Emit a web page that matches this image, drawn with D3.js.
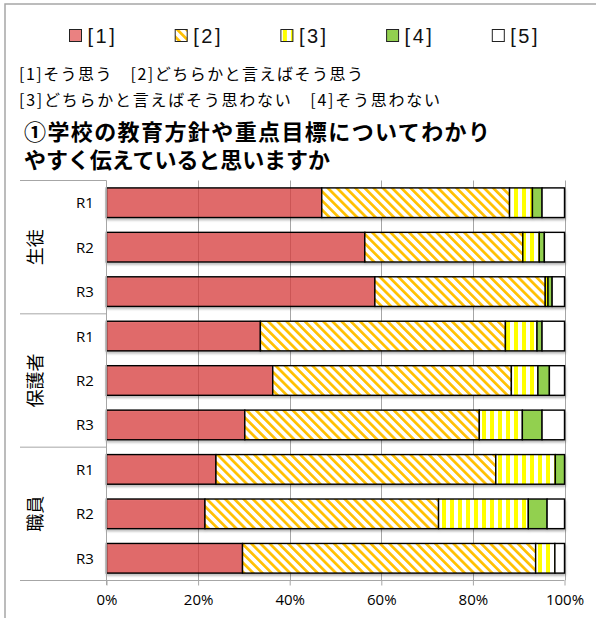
<!DOCTYPE html>
<html>
<head>
<meta charset="utf-8">
<script src="https://cdn.jsdelivr.net/npm/d3@7"></script>
<style>
  body { margin: 0; background: #fff; }
  svg { display: block; }
</style>
</head>
<body>
<svg width="596" height="618"></svg>
<script>
// data (percent)
var groups = ["生徒", "保護者", "職員"];
var rounds = ["R1", "R2", "R3"];
var seriesNames = ["[1]", "[2]", "[3]", "[4]", "[5]"];
var s1 = [47.0, 56.4, 58.6, 33.6, 36.3, 30.2, 23.9, 21.5, 29.7];
var s2 = [41.0, 34.5, 37.2, 53.5, 52.1, 51.2, 61.1, 51.0, 64.0];
var s3 = [5.0, 3.6, 0.6, 6.9, 5.8, 9.4, 13.0, 19.6, 4.2];
var s4 = [2.1, 1.1, 0.9, 1.1, 2.5, 4.3, 2.0, 4.1, 0.0];
var s5 = [4.9, 4.4, 2.7, 4.9, 3.3, 4.9, 0.0, 3.8, 2.1];
var xTicks = [0, 20, 40, 60, 80, 100];
var notes = ["[1]そう思う　[2]どちらかと言えばそう思う",
             "[3]どちらかと言えばそう思わない　[4]そう思わない"];
var titleLines = ["①学校の教育方針や重点目標についてわかり",
                  "やすく伝えていると思いますか"];

var svg = d3.select("svg");
var jp = "'Noto Sans CJK JP', sans-serif";
var latin = "'Liberation Sans', Arial, sans-serif";

var rows = [];
groups.forEach(function(g, gi) {
  rounds.forEach(function(r, ri) {
    var i = gi * 3 + ri;
    var row = {key: g + "-" + r, group: g, round: r};
    [s1, s2, s3, s4, s5].forEach(function(s, k) { row[seriesNames[k]] = s[i]; });
    rows.push(row);
  });
});

var stack = d3.stack().keys(seriesNames)(rows);

var x = d3.scaleLinear().domain([0, 100]).range([106.5, 564.5]);
var y = d3.scaleBand()
          .domain(rows.map(function(d) { return d.key; }))
          .range([180.5, 580.5])
          .paddingInner(1 / 3)
          .paddingOuter(1 / 6);

// patterns
var defs = svg.append("defs");
var diag = defs.append("pattern")
    .attr("id", "diag")
    .attr("patternUnits", "userSpaceOnUse")
    .attr("width", 6.5).attr("height", 6.5)
    .attr("patternTransform", "rotate(-45)");
diag.append("rect").attr("width", 6.5).attr("height", 6.5).attr("fill", "#fff");
diag.append("rect").attr("width", 2.7).attr("height", 6.5).attr("fill", "#FFC000");

var vert = defs.append("pattern")
    .attr("id", "vert")
    .attr("patternUnits", "userSpaceOnUse")
    .attr("width", 8).attr("height", 8);
vert.append("rect").attr("width", 8).attr("height", 8).attr("fill", "#fff");
vert.append("rect").attr("x", 2).attr("width", 4).attr("height", 8).attr("fill", "#FFFF00");

defs.append("filter")
    .attr("id", "shadow")
    .attr("x", "-5%").attr("y", "-20%").attr("width", "110%").attr("height", "150%")
  .append("feDropShadow")
    .attr("dx", 0.5).attr("dy", 2).attr("stdDeviation", 1.2)
    .attr("flood-color", "#000").attr("flood-opacity", 0.3);

var fills = {
  "[1]": "rgb(222,62,62)",
  "[2]": "url(#diag)",
  "[3]": "url(#vert)",
  "[4]": "#92D050",
  "[5]": "#fff"
};
var fillOpacity = {"[1]": 0.7, "[2]": 1, "[3]": 1, "[4]": 1, "[5]": 1};

// outer frame
svg.append("rect")
    .attr("x", 5).attr("y", 4)
    .attr("width", 640).attr("height", 660)
    .attr("fill", "none")
    .attr("stroke", "#A6A6A6")
    .attr("stroke-width", 1.5);

// legend
var legend = svg.append("g").attr("class", "legend");
var lg = legend.selectAll("g")
    .data(seriesNames)
  .enter().append("g")
    .attr("transform", function(d, i) { return "translate(" + (69.5 + i * 105.7) + ",29.5)"; });
lg.append("rect")
    .attr("width", 12).attr("height", 12)
    .attr("fill", function(d) { return fills[d]; })
    .attr("fill-opacity", function(d) { return d === "[1]" ? 0.65 : 1; })
    .attr("stroke", "#222")
    .attr("stroke-width", 1);
lg.append("text")
    .attr("x", 18).attr("y", 13.5)
    .style("font-family", latin)
    .style("font-size", "20px")
    .style("letter-spacing", "2.5px")
    .attr("fill", "#111")
    .text(function(d) { return d; });

// notes and title
var noteWidths = [344, 421];
svg.selectAll(".note")
    .data(notes)
  .enter().append("text")
    .attr("class", "note")
    .attr("x", 19)
    .attr("y", function(d, i) { return 80 + i * 26; })
    .attr("textLength", function(d, i) { return noteWidths[i]; })
    .attr("lengthAdjust", "spacing")
    .style("font-family", jp)
    .style("font-size", "16px")
    .attr("fill", "#000")
    .text(function(d) { return d; });

var titleWidths = [466, 306];
svg.selectAll(".title")
    .data(titleLines)
  .enter().append("text")
    .attr("class", "title")
    .attr("x", 24)
    .attr("y", function(d, i) { return 139.5 + i * 28; })
    .attr("textLength", function(d, i) { return titleWidths[i]; })
    .attr("lengthAdjust", "spacing")
    .style("font-family", jp)
    .style("font-size", "22px")
    .style("font-weight", "bold")
    .attr("fill", "#000")
    .text(function(d) { return d; });

// gridlines
svg.append("g")
    .selectAll("line")
    .data(xTicks.slice(1))
  .enter().append("line")
    .attr("x1", function(d) { return Math.round(x(d)) + 0.5; })
    .attr("x2", function(d) { return Math.round(x(d)) + 0.5; })
    .attr("y1", 180.5).attr("y2", 580.5)
    .attr("stroke", "#A6A6A6")
    .attr("stroke-width", 1);

// bars
var rowG = svg.append("g")
    .selectAll("g")
    .data(rows)
  .enter().append("g")
    .attr("filter", "url(#shadow)");

rowG.selectAll("rect")
    .data(function(d, i) { return stack.map(function(s) { return {key: s.key, v: s[i]}; }); })
  .enter().append("rect")
    .filter(function(d) { return d.v[1] - d.v[0] > 0; })
    .attr("x", function(d) { return x(d.v[0]); })
    .attr("width", function(d) { return x(d.v[1]) - x(d.v[0]); })
    .attr("y", function(d) { return y(d.v.data.key); })
    .attr("height", y.bandwidth())
    .attr("fill", function(d) { return fills[d.key]; })
    .attr("fill-opacity", function(d) { return fillOpacity[d.key]; })
    .attr("stroke", "#000")
    .attr("stroke-width", 1.4);

// x axis
var xAxis = svg.append("g")
    .attr("transform", "translate(0,580.5)")
    .call(d3.axisBottom(x).tickValues(xTicks).tickSize(5)
      .tickFormat(function(d) { return d + "%"; }));
xAxis.select(".domain").remove();
xAxis.selectAll(".tick line").attr("stroke", "#A6A6A6");
xAxis.selectAll(".tick text")
    .attr("y", 14)
    .style("font-family", "'Open Sans', sans-serif")
    .style("font-size", "15px")
    .attr("fill", "#000");
xAxis.append("line")
    .attr("x1", 20).attr("x2", x(100))
    .attr("stroke", "#A6A6A6");

// category axis (two levels)
svg.append("line")
    .attr("x1", 106.5).attr("x2", 106.5)
    .attr("y1", 180.5).attr("y2", 585)
    .attr("stroke", "#A6A6A6");

var step = y.step();
svg.append("g")
    .selectAll("line")
    .data(d3.range(groups.length + 1))
  .enter().append("line")
    .attr("x1", 20).attr("x2", 106.5)
    .attr("y1", function(i) { return 180.5 + i * step * 3; })
    .attr("y2", function(i) { return 180.5 + i * step * 3; })
    .attr("stroke", "#A6A6A6");

svg.append("g")
    .selectAll("text")
    .data(rows)
  .enter().append("text")
    .attr("x", 85)
    .attr("y", function(d) { return y(d.key) + y.bandwidth() / 2 + 5.5; })
    .attr("text-anchor", "middle")
    .style("font-family", "'Open Sans', sans-serif")
    .style("font-size", "15px")
    .attr("fill", "#000")
    .text(function(d) { return d.round; });

svg.append("g")
    .selectAll("text")
    .data(groups)
  .enter().append("text")
    .attr("transform", function(d, i) {
      return "translate(42," + (180.5 + (i + 0.5) * step * 3) + ") rotate(-90)";
    })
    .attr("text-anchor", "middle")
    .style("font-family", jp)
    .style("font-size", "18px")
    .attr("fill", "#000")
    .text(function(d) { return d; });
</script>
</body>
</html>
